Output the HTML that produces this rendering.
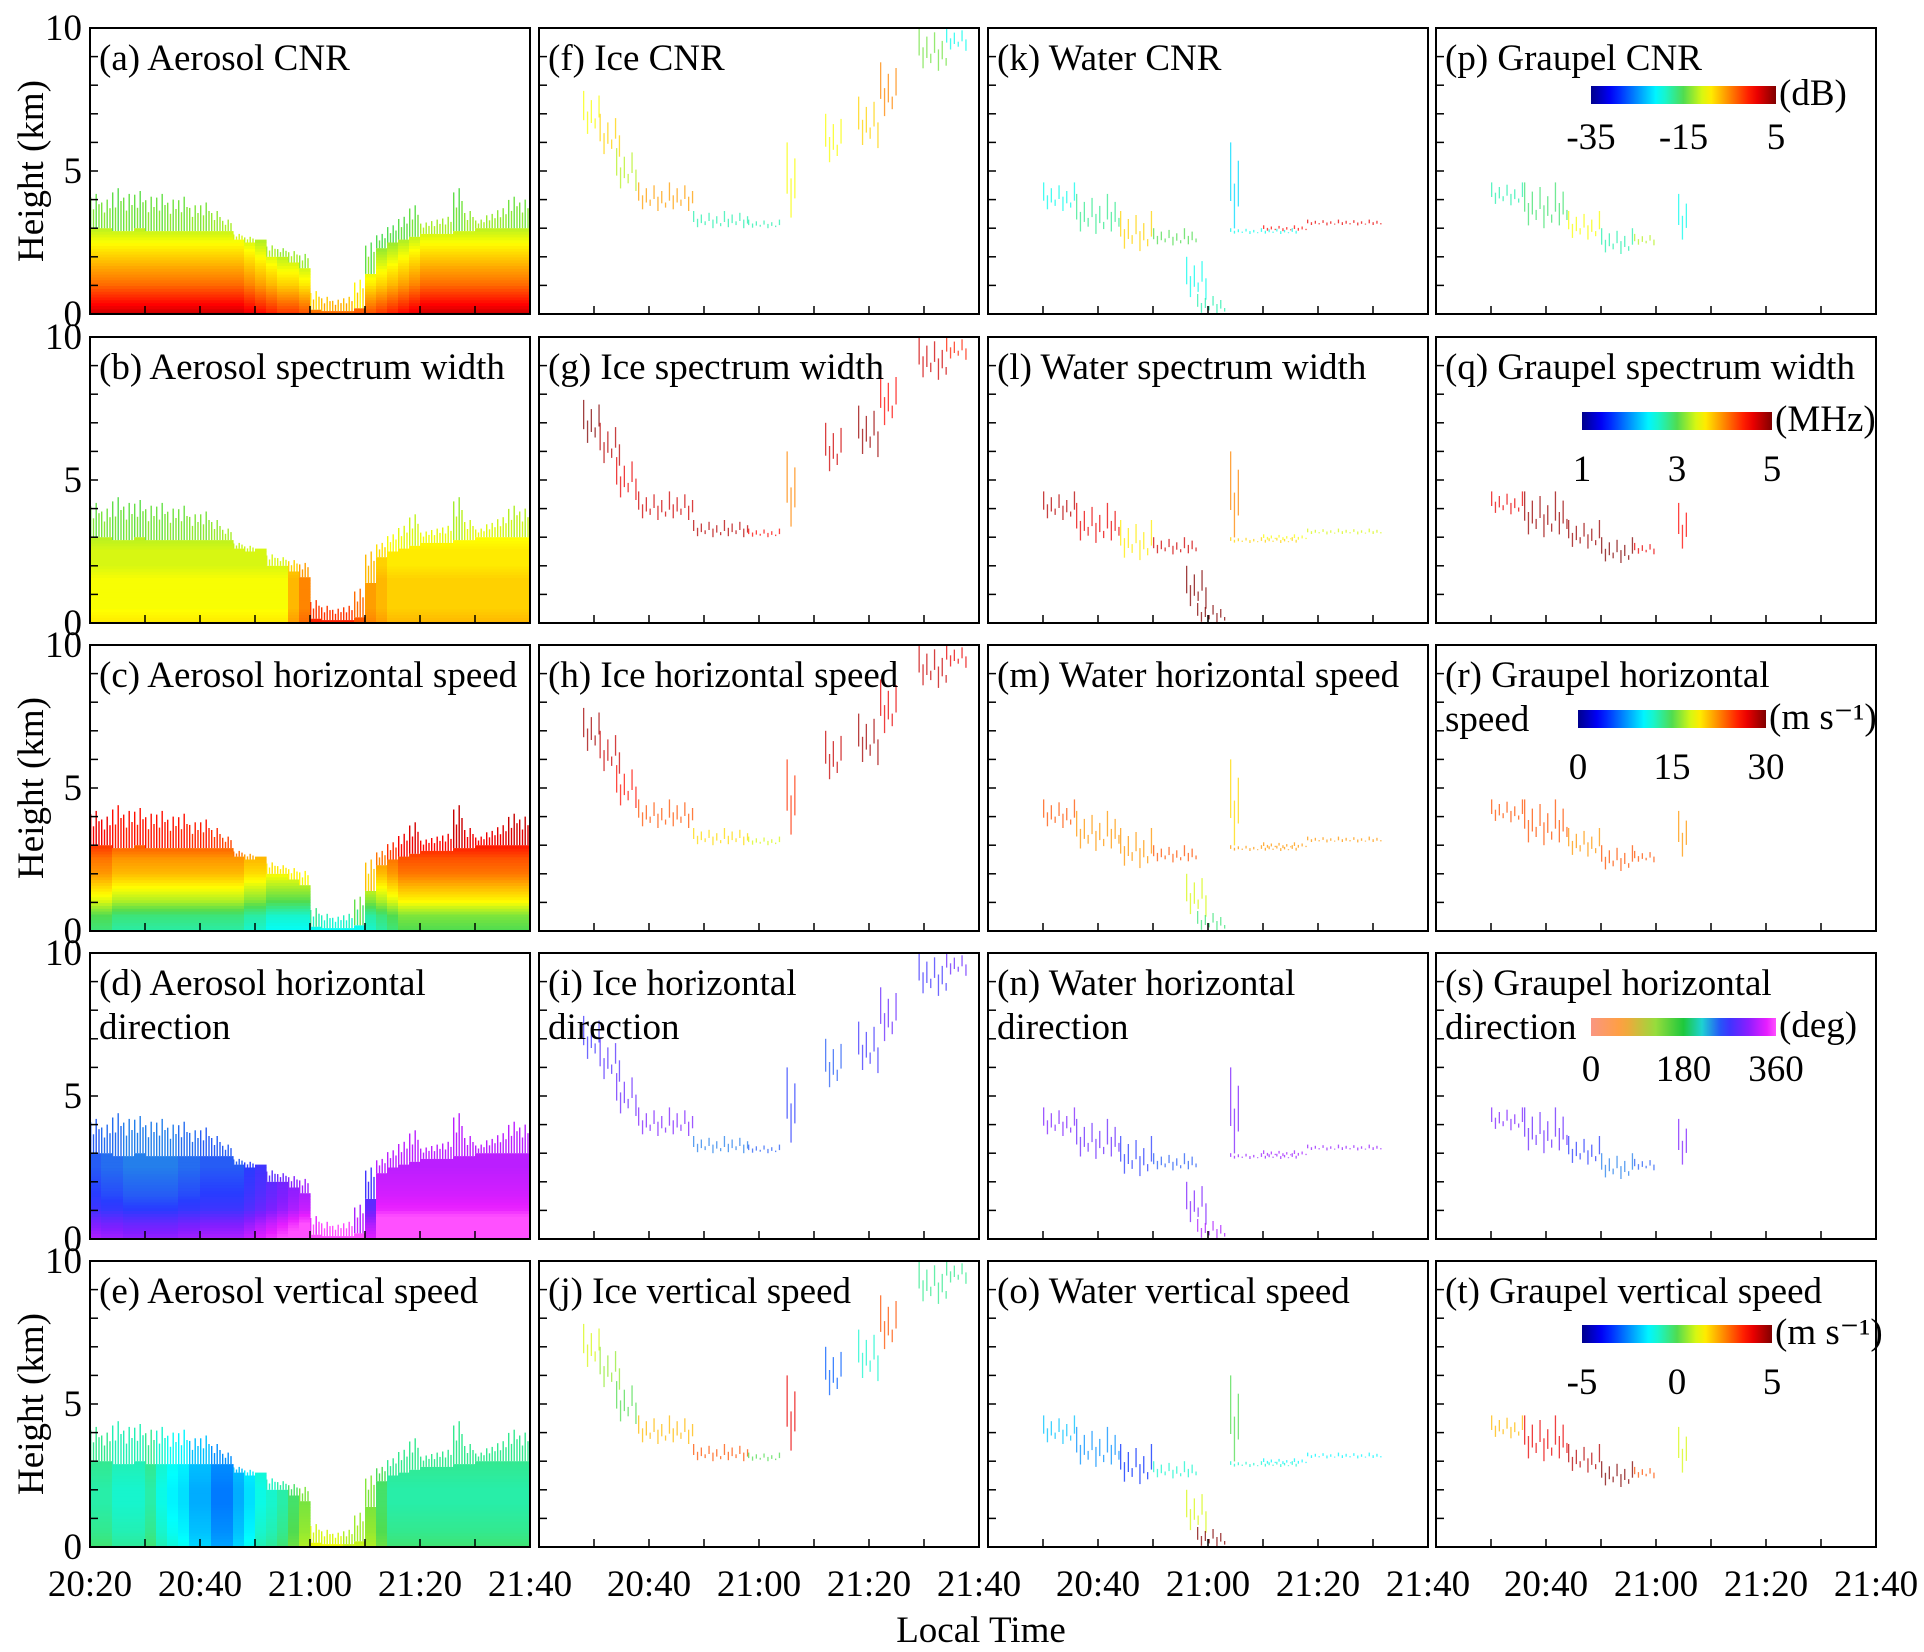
<!DOCTYPE html>
<html><head><meta charset="utf-8">
<style>
html,body{margin:0;padding:0;background:#fff;}
svg{display:block;font-family:"Liberation Serif",serif;}
</style></head>
<body>
<svg id="fig" width="1924" height="1652" viewBox="0 0 1924 1652" xmlns="http://www.w3.org/2000/svg">
<g id="marks"></g><g id="frames"></g>
</svg>
<script>
// ---------- data ----------
const timeLabels = ["20:20","20:40","21:00","21:20","21:40"];
const heightLabels = ["0","5","10"];
const panelTitles = [
 ["(a) Aerosol CNR","(b) Aerosol spectrum width","(c) Aerosol horizontal speed","(d) Aerosol horizontal","(e) Aerosol vertical speed"],
 ["(f) Ice CNR","(g) Ice spectrum width","(h) Ice horizontal speed","(i) Ice horizontal","(j) Ice vertical speed"],
 ["(k) Water CNR","(l) Water spectrum width","(m) Water horizontal speed","(n) Water horizontal","(o) Water vertical speed"],
 ["(p) Graupel CNR","(q) Graupel spectrum width","(r) Graupel horizontal","(s) Graupel horizontal","(t) Graupel vertical speed"]];
const cbTicks = [["-35","-15","5"],["1","3","5"],["0","15","30"],["0","180","360"],["-5","0","5"]];
const cbUnits = ["(dB)","(MHz)","(m s⁻¹)","(deg)","(m s⁻¹)"];
const cbRange = [[-35,5],[1,5],[0,30],[0,360],[-5,5]];
// aerosol: 2-minute bins from 20:20
const aeroTop = [3.0,3.0,2.9,2.9,3.0,2.9,2.9,2.9,2.9,2.9,2.9,2.9,2.9,2.6,2.5,2.6,2.0,2.0,1.8,1.6,0.15,0.1,0.1,0.1,0.2,1.4,2.3,2.5,2.6,2.7,2.8,2.8,2.8,2.9,2.9,3.0,3.0,3.0,3.0,3.0];
const aeroSpike = [4.2,4.0,4.4,4.2,4.3,4.1,4.2,4.0,4.1,3.8,3.9,3.6,3.3,2.8,2.7,2.6,2.4,2.3,2.2,2.1,0.8,0.6,0.5,0.6,1.2,2.5,2.8,3.1,3.4,3.8,3.2,3.3,3.4,4.4,3.6,3.3,3.5,3.7,4.1,4.0];
// profiles at heights 0,0.5,...,4.5 km
const aeroCNRProfile = [2,-1,-4,-6,-8,-10,-12,-13,-14,-15];
const aeroSWProfile = [3.6,3.5,3.5,3.5,3.4,3.4,3.3,3.2,3.1,3.0];
const aeroHSProfile = [14,15,18,20,22,23,25,26,27,27];
const aeroHDProfile = [320,300,270,260,255,250,250,250,250,250];
const aeroVSProfile = [-0.3,-0.5,-0.6,-0.7,-0.7,-0.6,-0.5,-0.5,-0.5,-0.5];
const aeroCNROffset = [0,0,0,0,0,0,0,0,0,0,0,0,0,0,-1,-2,-3,-4,-4,-5,-6,-6,-6,-6,-5,-5,-4,-3,-2,-1,0,0,0,0,0,0,0,0,0,0];
const aeroSWOffset = [0,0,0,0,0,0,0,0,0,0,0,0,0,0,0,0,0,0,0.3,0.5,0.8,0.8,0.8,0.8,0.6,0.4,0.3,0.2,0.2,0.2,0.2,0.2,0.2,0.2,0.2,0.2,0.2,0.2,0.2,0.2];
const aeroHSOffset = [0,0,-1,-1,-1,-1,-1,-1,-1,-1,-1,-1,-1,-1,-2,-2,-3,-3,-3,-3,-3,-3,-3,-3,-3,-2,-1,0,1,1,1,1,1,1,1,1,1,1,1,1];
const aeroHDOffset = [0,-5,-5,-10,-10,-10,-10,-10,-5,-5,0,0,0,0,10,20,30,40,50,60,60,60,60,60,50,20,75,75,75,75,75,75,75,75,75,75,75,75,75,75];
const aeroVSOffset = [0,0,-0.3,-0.3,-0.3,0,-0.5,-0.8,-1,-1.5,-1.5,-2,-2,-1.5,-1,-0.5,-0.3,0,0.5,1,1.5,1.5,1.5,1.2,1.2,1,0.5,0,0,0,0,0,0,0,0,0,0,0,0,0];
// hydrometeor segments (minutes after 20:20, km)
const iceT0 = [8,11,14,18,28,38,45,52,58,62,69,74];
const iceT1 = [11,15,18,28,38,44,47,55,62,65,74,78];
const iceH0 = [6.2,5.5,4.3,3.6,3.0,3.0,3.2,5.2,5.8,6.8,8.5,9.2];
const iceH1 = [7.8,7.0,5.8,4.6,3.6,3.3,6.0,7.0,7.6,8.8,10,10];
const iceCNR = [-10,-8,-12,-6,-18,-18,-10,-10,-8,-5,-14,-20];
const iceSW = [5,4.8,4.6,4.7,4.8,4.5,4,4.7,4.9,4.5,4.7,4.4];
const iceHS = [29,28,26,24,20,18,25,28,29,27,28,27];
const iceHD = [270,280,290,300,240,250,260,250,270,290,270,290];
const iceVS = [1,0.5,0,2,3,0,4,-3,-1,3,-0.5,-0.5];
const waterT0 = [10,16,24,30,36,38,44,44,50,58];
const waterT1 = [16,24,30,38,40,43,46,56,58,72];
const waterH0 = [3.6,2.8,2.2,2.4,0.5,0,2.8,2.8,2.9,3.1];
const waterH1 = [4.6,4.2,3.6,3.0,2.0,0.7,6.0,3.0,3.1,3.3];
const waterCNR = [-20,-17,-8,-15,-20,-18,-22,-20,0,1];
const waterSW = [4.8,4.6,3.6,4.7,5,5,4,3.7,3.5,3.4];
const waterHS = [24,22,22,24,18,14,20,22,22,22];
const waterHD = [300,290,260,250,300,320,300,310,315,310];
const waterVS = [-2,-2.5,-3.5,-1,1,5,0,-1,-1.5,-1.5];
const graupT0 = [10,16,24,30,36,44];
const graupT1 = [16,24,30,36,40,46];
const graupH0 = [3.8,3.0,2.6,2.1,2.4,2.5];
const graupH1 = [4.6,4.6,3.6,3.0,2.8,4.2];
const graupCNR = [-18,-16,-10,-18,-12,-20];
const graupSW = [4.6,4.9,4.9,5,4.6,4.5];
const graupHS = [24,24,22,24,24,22];
const graupHD = [300,290,260,240,250,300];
const graupVS = [2,4,4.5,5,3,1];

// ---------- layout ----------
const colX=[90,539,988,1436], W=440, rowY=[28,337,645,953,1261], H=286;
const FS=37;
const NS="http://www.w3.org/2000/svg";
const marks=document.getElementById('marks'), frames=document.getElementById('frames');
function el(tag,attrs,parent){const e=document.createElementNS(NS,tag);for(const k in attrs)e.setAttribute(k,attrs[k]);(parent||marks).appendChild(e);return e;}
function xs(c,m){return colX[c]+m/80*W;}
function ys(r,h){return rowY[r]+H-h/10*H;}

const jetStops=[[0,[0,0,140]],[0.11,[0,0,255]],[0.36,[0,255,255]],[0.5,[80,220,80]],[0.63,[255,255,0]],[0.88,[255,0,0]],[1,[128,0,0]]];
const dirStops=[[0,[250,150,130]],[0.17,[255,160,60]],[0.35,[150,220,60]],[0.5,[30,200,60]],[0.6,[30,210,210]],[0.72,[40,60,255]],[0.84,[130,30,255]],[0.95,[230,30,255]],[1,[255,80,255]]];
function cmap(stops,t){t=Math.max(0,Math.min(1,t));for(let i=1;i<stops.length;i++){if(t<=stops[i][0]){const a=stops[i-1],b=stops[i],f=(t-a[0])/(b[0]-a[0]);return 'rgb('+a[1].map((v,j)=>Math.round(v+(b[1][j]-v)*f)).join(',')+')';}}return 'rgb(128,0,0)';}
function color(k,v){const r=cbRange[k],t=(v-r[0])/(r[1]-r[0]);return cmap(k===3?dirStops:jetStops,t);}
function prof(p,h){const i=Math.min(p.length-1.001,Math.max(0,h/0.5)),a=Math.floor(i),f=i-a;return p[a]+(p[a+1]-p[a])*f;}

const aeroProf=[aeroCNRProfile,aeroSWProfile,aeroHSProfile,aeroHDProfile,aeroVSProfile];
const aeroOff=[aeroCNROffset,aeroSWOffset,aeroHSOffset,aeroHDOffset,aeroVSOffset];
for(let r=0;r<5;r++){
  const g=el('g',{});
  
  
  for(let i=0;i<aeroTop.length;i++){
    const t0=i*2;
    for(let h=0;h<aeroTop[i];h+=0.1){
      const hh=Math.min(0.1,aeroTop[i]-h);
      const c=el('rect',{x:xs(0,t0).toFixed(1),y:ys(r,h+hh).toFixed(1),width:(W/40+0.6).toFixed(1),height:(hh/10*H+0.6).toFixed(1),fill:color(r,prof(aeroProf[r],h)+aeroOff[r][i])},g);
      
      
    }
    for(let s=0;s<4;s++){
      const frac=[0.9,0.55,1.0,0.7][s];
      const top=aeroTop[i]+(aeroSpike[i]-aeroTop[i])*frac;
      if(top<=aeroTop[i])continue;
      const b=el('rect',{x:xs(0,t0+s*0.5).toFixed(1),y:ys(r,top).toFixed(1),width:1.4,height:((top-aeroTop[i])/10*H).toFixed(1),fill:color(r,prof(aeroProf[r],top)+aeroOff[r][i])},g);
      
      
    }
  }
}
const hyd=[
 {c:1,T0:iceT0,T1:iceT1,H0:iceH0,H1:iceH1,V:[iceCNR,iceSW,iceHS,iceHD,iceVS],n:'ice'},
 {c:2,T0:waterT0,T1:waterT1,H0:waterH0,H1:waterH1,V:[waterCNR,waterSW,waterHS,waterHD,waterVS],n:'water'},
 {c:3,T0:graupT0,T1:graupT1,H0:graupH0,H1:graupH1,V:[graupCNR,graupSW,graupHS,graupHD,graupVS],n:'graupel'}];
const jit=[0.0,0.45,0.2,0.6,0.1,0.5,0.3,0.7];
for(const d of hyd){for(let r=0;r<5;r++){
  const g=el('g',{});
  
  
  for(let i=0;i<d.T0.length;i++){
    const span=d.H1[i]-d.H0[i];
    let k=0;
    for(let m=d.T0[i];m<d.T1[i];m+=0.7,k++){
      const j=jit[k%jit.length],j2=jit[(k+3)%jit.length];
      const top=d.H1[i]-span*j, bot=d.H0[i]+span*j2*0.6;
      if(top<=bot)continue;
      const b=el('rect',{x:xs(d.c,m).toFixed(1),y:ys(r,top).toFixed(1),width:1.3,height:((top-bot)/10*H).toFixed(1),fill:color(r,d.V[r][i]),opacity:0.75},g);
      
      
    }
  }
}}

const F=frames;
for(let c=0;c<4;c++)for(let r=0;r<5;r++){
  const x0=colX[c],y0=rowY[r];
  const fr=el('rect',{x:x0,y:y0,width:W,height:H,fill:'none',stroke:'#000','stroke-width':2},F);
  
  
  for(let h=1;h<10;h++)el('line',{x1:x0,x2:x0+8,y1:ys(r,h),y2:ys(r,h),stroke:'#000','stroke-width':1.5},F);
  for(let m=10;m<80;m+=10)el('line',{x1:xs(c,m),x2:xs(c,m),y1:y0+H,y2:y0+H-8,stroke:'#000','stroke-width':1.5},F);
  const t=el('text',{x:x0+9,y:y0+42,'font-size':FS,fill:'#000'},F);
  t.textContent=panelTitles[c][r];
  
  
  if(r===3){const t2=el('text',{x:x0+9,y:y0+86,'font-size':FS},F);t2.textContent='direction';
    
    }
  if(c===3&&r===2){const t2=el('text',{x:x0+9,y:y0+86,'font-size':FS},F);t2.textContent='speed';
    
    }
}
for(let r=0;r<5;r++){
  heightLabels.forEach((lb,i)=>{const t=el('text',{x:82,y:ys(r,i*5)+12,'font-size':FS,'text-anchor':'end'},F);t.textContent=lb;
    
    });
  if(r%2===0){const yl=el('text',{x:0,y:0,'font-size':FS,'text-anchor':'middle',transform:'translate(43,'+(rowY[r]+H/2)+') rotate(-90)'},F);yl.textContent='Height (km)';
    
    }
}
for(let c=0;c<4;c++)timeLabels.forEach((lb,i)=>{if(c>0&&i===0)return;
  const t=el('text',{x:xs(c,i*20),y:1596,'font-size':FS,'text-anchor':'middle'},F);t.textContent=lb;
  
  });
const xt=el('text',{x:981,y:1642,'font-size':FS,'text-anchor':'middle'},F);xt.textContent='Local Time';


const cbX=[[1591,1776],[1582,1772],[1578,1766],[1591,1776],[1582,1772]];
const cbYoff=[58,75,65,65,64], cbLoff=[121,144,134,128,133];
const defs=el('defs',{},F);
for(let r=0;r<5;r++){
  const gr=el('linearGradient',{id:'cb'+r,x1:0,x2:1,y1:0,y2:0},defs);
  for(let i=0;i<=20;i++)el('stop',{offset:i/20,'stop-color':color(r,cbRange[r][0]+(cbRange[r][1]-cbRange[r][0])*i/20)},gr);
  const y=rowY[r]+cbYoff[r];
  const b=el('rect',{x:cbX[r][0],y:y,width:cbX[r][1]-cbX[r][0],height:18,fill:'url(#cb'+r+')'},F);
  
  
  const u=el('text',{x:cbX[r][1]+3,y:y+19,'font-size':FS},F);u.textContent=cbUnits[r];
  
  
  cbTicks[r].forEach((lb,i)=>{const t=el('text',{x:cbX[r][0]+(cbX[r][1]-cbX[r][0])*i/2,y:rowY[r]+cbLoff[r],'font-size':FS,'text-anchor':'middle'},F);t.textContent=lb;
    
    });
}
</script>
</body></html>
